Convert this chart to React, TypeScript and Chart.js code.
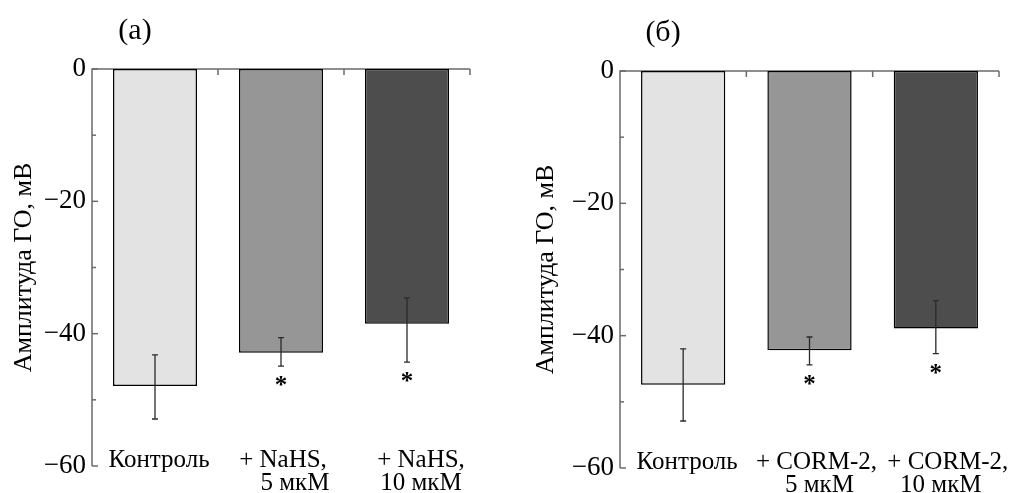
import { useEffect, useRef } from "react";
import { Chart, registerables } from "chart.js";

Chart.register(...registerables);

const FONT = '"Liberation Serif", "Times New Roman", "DejaVu Serif", serif';
Chart.defaults.font.family = FONT;

// ---- data ----
const categoriesA = [["Контроль"], ["+ NaHS,", "5 мкМ"], ["+ NaHS,", "10 мкМ"]];
const meansA = [-47.9, -42.9, -38.5];
const errUpperA = [-43.2, -40.6, -34.6];
const errLowerA = [-52.9, -44.9, -44.3];
const signifA = [false, true, true];

const categoriesB = [["Контроль"], ["+ CORM-2,", "5 мкМ"], ["+ CORM-2,", "10 мкМ"]];
const meansB = [-47.4, -42.2, -38.9];
const errUpperB = [-42.0, -40.2, -34.7];
const errLowerB = [-52.9, -44.4, -42.7];
const signifB = [false, true, true];

const barColors = ["#e3e3e3", "#969696", "#4d4d4d"];
const yMin = -60;
const yMax = 0;
const yStep = 10;
const yLabelStep = 20;
const yTitle = "Амплитуда ГО, мВ";
const titleA = "(а)";
const titleB = "(б)";

type PanelProps = {
  left: number;
  width: number;
  height: number;
  title: string;
  labels: string[][];
  labelShift: number[][];
  means: number[];
  upper: number[];
  lower: number[];
  signif: boolean[];
  pad: { top: number; right: number; left: number };
  yAxisWidth: number;
  xAxisHeight: number;
};

function fmtTick(v: number): string {
  if (v === 0) return "0";
  return (v < 0 ? "\u2212" : "") + Math.abs(v);
}

function Panel(p: PanelProps) {
  const ref = useRef<HTMLCanvasElement | null>(null);
  useEffect(() => {
    if (!ref.current) return;
    const framePlugin = {
      id: "frame",
      beforeDatasetsDraw(chart: any) {
        const { ctx, chartArea } = chart;
        const x = chart.scales.x;
        const y = chart.scales.y;
        const y0 = y.getPixelForValue(yMax);
        const yB = y.getPixelForValue(yMin);
        ctx.save();
        ctx.strokeStyle = "#6a6a6a";
        ctx.lineWidth = 1.5;
        ctx.beginPath();
        ctx.moveTo(chartArea.left, yB);
        ctx.lineTo(chartArea.left, y0);
        ctx.lineTo(chartArea.right, y0);
        ctx.stroke();
        // y ticks (inside)
        for (let v = yMax; v >= yMin; v -= yStep) {
          const py = y.getPixelForValue(v);
          const len = v % yLabelStep === 0 ? 6 : 4;
          ctx.beginPath();
          ctx.moveTo(chartArea.left, py);
          ctx.lineTo(chartArea.left + len, py);
          ctx.stroke();
        }
        // x boundary ticks (inside, downward)
        const n = p.labels.length;
        const half = (x.getPixelForValue(1) - x.getPixelForValue(0)) / 2;
        for (let i = 0; i < n; i++) {
          const px = x.getPixelForValue(i) + half;
          ctx.beginPath();
          ctx.moveTo(px, y0);
          ctx.lineTo(px, y0 + 6);
          ctx.stroke();
        }
        ctx.restore();
      },
      afterDatasetsDraw(chart: any) {
        const { ctx, chartArea } = chart;
        const x = chart.scales.x;
        const y = chart.scales.y;
        const meta = chart.getDatasetMeta(0);
        ctx.save();
        ctx.strokeStyle = "#2a2a2a";
        ctx.lineWidth = 1.3;
        meta.data.forEach((bar: any, i: number) => {
          const px = bar.x;
          const yt = y.getPixelForValue(p.upper[i]);
          const yb = y.getPixelForValue(p.lower[i]);
          ctx.beginPath();
          ctx.moveTo(px, yt);
          ctx.lineTo(px, yb);
          ctx.moveTo(px - 3, yt);
          ctx.lineTo(px + 3, yt);
          ctx.moveTo(px - 3, yb);
          ctx.lineTo(px + 3, yb);
          ctx.stroke();
          if (p.signif[i]) {
            ctx.fillStyle = "#000";
            ctx.font = `bold 25px ${FONT}`;
            ctx.textAlign = "center";
            ctx.textBaseline = "alphabetic";
            ctx.fillText("*", px, yb + 27);
          }
        });
        // category labels (drawn at the x scale's category positions)
        ctx.fillStyle = "#000";
        ctx.font = `25px ${FONT}`;
        ctx.textAlign = "center";
        ctx.textBaseline = "middle";
        p.labels.forEach((lines, i) => {
          const px = x.getPixelForValue(i);
          lines.forEach((line, j) => {
            const dx = (p.labelShift[i] && p.labelShift[i][j]) || 0;
            ctx.fillText(line, px + dx, chartArea.bottom - 5.5 + j * 22.5);
          });
        });
        // panel title
        ctx.font = `30px ${FONT}`;
        ctx.fillText(p.title, chartArea.left + 43, chartArea.top - 38);
        ctx.restore();
      },
    };

    const chart = new Chart(ref.current, {
      type: "bar",
      data: {
        labels: p.labels,
        datasets: [
          {
            data: p.means,
            backgroundColor: barColors,
            borderColor: "#000",
            borderWidth: 1.5,
            borderSkipped: false,
            barPercentage: 0.667,
            categoryPercentage: 1,
          },
        ],
      },
      options: {
        responsive: false,
        animation: false,
        events: [],
        layout: { padding: { top: p.pad.top, right: p.pad.right, left: p.pad.left, bottom: 0 } },
        plugins: { legend: { display: false }, tooltip: { enabled: false }, title: { display: false } },
        scales: {
          x: {
            position: "bottom",
            grid: { display: false, drawTicks: false },
            border: { display: false },
            ticks: { display: false },
            afterFit: (s: any) => {
              s.height = p.xAxisHeight;
            },
          },
          y: {
            min: yMin,
            max: yMax,
            grid: { display: false, drawTicks: false },
            border: { display: false },
            ticks: {
              stepSize: yStep,
              color: "#000",
              font: { family: FONT, size: 27 },
              padding: 6,
              callback: (v: any) => (Number(v) % yLabelStep === 0 ? fmtTick(Number(v)) : ""),
            },
            title: {
              display: true,
              text: yTitle,
              color: "#000",
              font: { family: FONT, size: 26, lineHeight: 1.2 },
              padding: { top: 0, bottom: 0 },
            },
            afterFit: (s: any) => {
              s.width = p.yAxisWidth;
            },
          },
        },
      },
      plugins: [framePlugin],
    });
    return () => chart.destroy();
  }, []);
  return (
    <canvas
      ref={ref}
      width={p.width}
      height={p.height}
      style={{ position: "absolute", left: p.left, top: 0, width: p.width, height: p.height, display: "block" }}
    />
  );
}

export default function App() {
  return (
    <div style={{ position: "fixed", left: 0, top: 0, width: 1012, height: 493, background: "#fff", overflow: "hidden" }}>
      <Panel
        left={0}
        width={500}
        height={493}
        title={titleA}
        labels={categoriesA}
        labelShift={[[4], [2, 14], [14, 14]]}
        means={meansA}
        upper={errUpperA}
        lower={errLowerA}
        signif={signifA}
        pad={{ top: 69, right: 30, left: 9 }}
        yAxisWidth={83}
        xAxisHeight={27}
      />
      <Panel
        left={500}
        width={512}
        height={493}
        title={titleB}
        labels={categoriesB}
        labelShift={[[4], [7, 10], [12, 5]]}
        means={meansB}
        upper={errUpperB}
        lower={errLowerB}
        signif={signifB}
        pad={{ top: 71, right: 13, left: 31 }}
        yAxisWidth={89}
        xAxisHeight={25}
      />
    </div>
  );
}
